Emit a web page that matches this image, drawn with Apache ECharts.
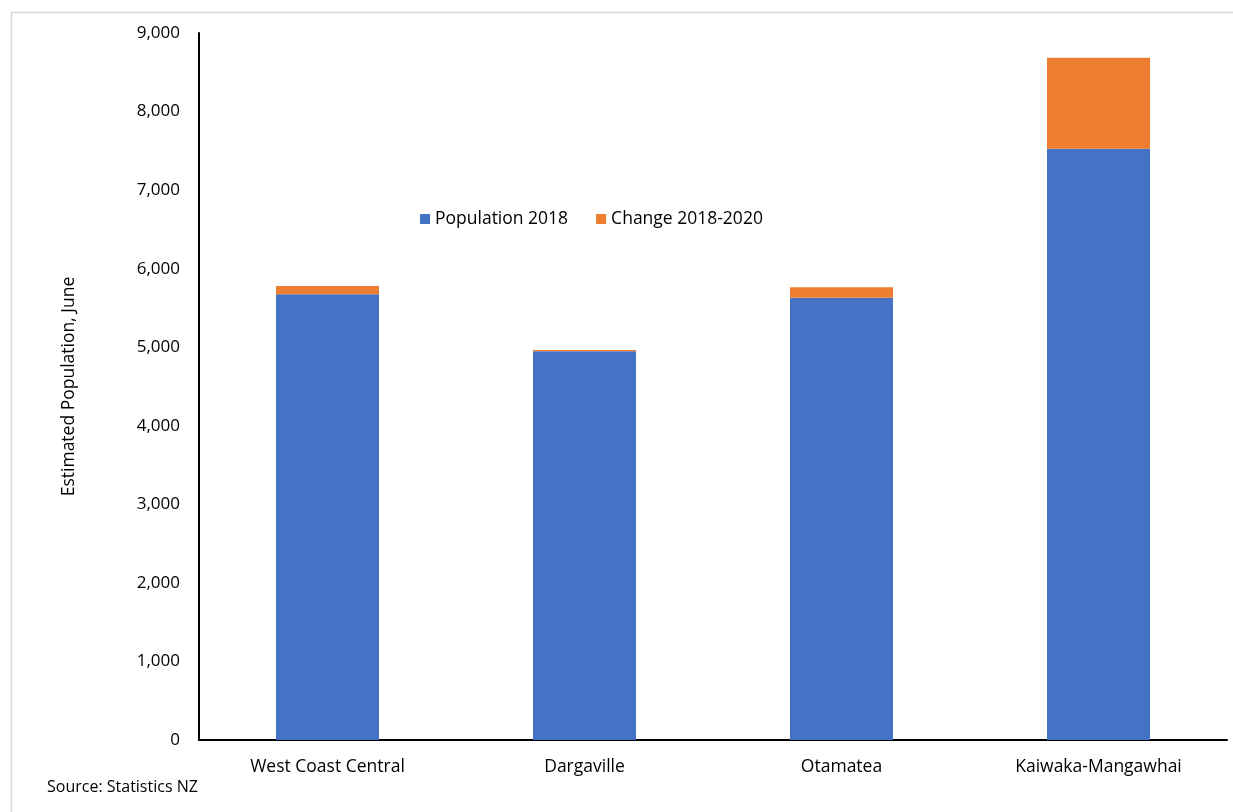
<!DOCTYPE html>
<html>
<head>
<meta charset="utf-8">
<script src="https://cdn.jsdelivr.net/npm/echarts@6/dist/echarts.min.js"></script>
<style>
  html, body { margin: 0; padding: 0; background: #fff; }
  #chart { width: 1233px; height: 812px; }
</style>
</head>
<body>
<div id="chart"></div>
<script>
const categories = ['West Coast Central', 'Dargaville', 'Otamatea', 'Kaiwaka-Mangawhai'];
const population2018 = [5674, 4948, 5630, 7527];
const change2018to2020 = [105, 18, 132, 1158];
const yTicks = { min: 0, max: 9000, interval: 1000 };

const font = '"Open Sans", "Noto Sans", sans-serif';

const myChart = echarts.init(document.getElementById('chart'));

const option = {
  animation: false,
  textStyle: { fontFamily: font },
  graphic: [
    {
      type: 'rect',
      shape: { x: 11.5, y: 12.5, width: 1240, height: 820 },
      style: { fill: 'none', stroke: '#d9d9d9', lineWidth: 1.5 },
      silent: true,
    },
    {
      type: 'text',
      left: 47,
      top: 779,
      style: { text: 'Source: Statistics NZ', font: '16px ' + font, fill: '#000' },
    },
  ],
  legend: {
    data: ['Population 2018', 'Change 2018-2020'],
    left: 415,
    top: 205,
    itemWidth: 10,
    itemHeight: 10,
    itemGap: 28,
    icon: 'rect',
    textStyle: { fontSize: 17.5, color: '#000', fontFamily: font },
  },
  grid: {
    left: 199,
    right: 6,
    top: 33,
    bottom: 72,
  },
  xAxis: {
    type: 'category',
    data: categories,
    axisLine: { lineStyle: { color: '#000', width: 2 } },
    axisTick: { show: false },
    axisLabel: { fontSize: 17.5, color: '#000', margin: 18 },
  },
  yAxis: {
    type: 'value',
    min: yTicks.min,
    max: yTicks.max,
    interval: yTicks.interval,
    name: 'Estimated Population, June',
    nameLocation: 'middle',
    nameGap: 121,
    nameTextStyle: { fontSize: 17.5, color: '#000' },
    axisLine: { show: true, lineStyle: { color: '#000', width: 2 } },
    axisTick: { show: false },
    splitLine: { show: false },
    axisLabel: {
      fontSize: 17,
      color: '#000',
      margin: 19,
      formatter: (v) => v.toLocaleString('en-US'),
    },
  },
  series: [
    {
      name: 'Population 2018',
      type: 'bar',
      stack: 'Total',
      barWidth: 103,
      itemStyle: { color: '#4472c4' },
      data: population2018,
    },
    {
      name: 'Change 2018-2020',
      type: 'bar',
      stack: 'Total',
      barWidth: 103,
      itemStyle: { color: '#ed7d31' },
      data: change2018to2020,
    },
  ],
};

myChart.setOption(option);
</script>
</body>
</html>
